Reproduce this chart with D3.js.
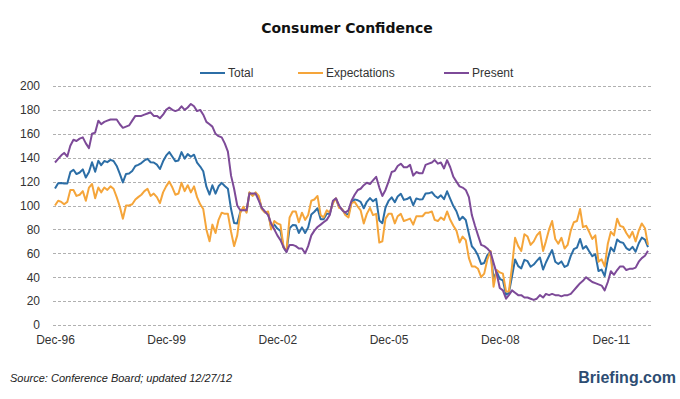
<!DOCTYPE html>
<meta charset="utf-8">
<style>

    body {
        margin: 0;
        background: #fff;
        font-family: "Liberation Sans", Arial, sans-serif;
    }

    .grid line {
        stroke: #b0b0b0;
        stroke-dasharray: 3 2;
        shape-rendering: crispEdges;
    }

    .grid path {
        stroke-width: 0;
    }

    .axis path {
        display: none;
    }

    .axis text {
        font-family: "Liberation Sans", Arial, sans-serif;
        font-size: 12px;
        fill: #333;
    }

    .line {
        fill: none;
        stroke-width: 2px;
        stroke-linejoin: round;
    }

</style>

<svg width="680" height="399"></svg>

<script src="https://cdn.jsdelivr.net/npm/d3@7"></script>
<script>

    // monthly readings, Dec-96 .. Dec-12
    var firstMonth = "Dec-96";

    var total = [
        114.2,
        118.7, 118.9, 118.5, 118.5, 127.9, 129.9, 126.3, 127.6, 130.2, 123.4, 128.1, 136.2,
        128.3, 137.4, 133.8, 137.2, 136.3, 138.2, 137.2, 133.1, 126.4, 119.3, 126.4, 126.7,
        128.9, 133.1, 134.0, 135.5, 137.7, 139.0, 136.2, 136.0, 134.2, 130.5, 137.0, 141.7,
        144.7, 140.8, 137.1, 137.7, 144.7, 139.2, 143.0, 140.8, 142.5, 135.8, 132.6, 128.6,
        115.7, 109.2, 116.9, 109.9, 116.1, 118.9, 116.3, 114.0, 97.0, 85.3, 84.9, 94.6,
        97.8, 95.0, 110.7, 108.5, 110.3, 106.3, 97.4, 94.5, 93.7, 82.0, 84.0, 80.7,
        78.8, 64.8, 61.4, 81.0, 83.6, 83.5, 77.0, 81.7, 77.0, 81.7, 92.5, 94.8,
        97.7, 88.5, 88.5, 93.0, 93.1, 102.8, 105.7, 98.7, 96.7, 92.9, 92.6, 102.7,
        105.1, 104.4, 103.0, 97.7, 103.1, 106.2, 103.6, 105.5, 87.5, 85.2, 98.3, 103.8,
        106.8, 102.7, 107.5, 109.8, 104.7, 105.4, 107.0, 100.2, 105.9, 105.1, 105.3, 110.0,
        110.2, 111.2, 108.2, 106.3, 108.5, 105.3, 111.9, 105.6, 99.5, 95.2, 87.8, 90.6,
        87.9, 76.4, 65.9, 62.8, 58.1, 51.0, 51.9, 58.5, 61.4, 38.8, 44.7, 38.6,
        37.4, 25.3, 26.9, 40.8, 54.8, 49.3, 47.4, 54.5, 53.4, 48.7, 50.6, 53.6,
        56.5, 46.4, 52.3, 57.7, 62.7, 52.9, 51.0, 53.2, 48.6, 49.9, 57.8, 63.4,
        64.8, 72.0, 63.8, 66.0, 61.7, 57.6, 59.2, 45.2, 46.4, 40.9, 55.2, 64.8,
        61.5, 71.6, 69.5, 68.7, 64.4, 62.7, 65.4, 61.3, 68.4, 73.1, 71.5, 65.1
    ];

    var expectations = [
        100,
        104, 103, 101, 103, 113, 113, 108, 109, 112, 104, 115, 118,
        106, 115, 111, 115, 113, 116, 114, 107, 99, 89, 100, 100,
        101, 105, 107, 109, 112, 114, 108, 110, 107, 102, 111, 116,
        120, 115, 109, 110, 119, 112, 117, 111, 116, 107, 101, 97,
        80, 70, 84, 77, 88, 94, 93, 93, 78, 66, 75, 94,
        99, 94, 111, 108, 111, 108, 97, 94, 95, 80, 87, 85,
        84, 65, 62, 90, 95, 95, 86, 94, 88, 92, 104, 105,
        108, 92, 90, 96, 94, 102, 106, 98, 97, 92, 90, 102,
        103, 99, 96, 85, 93, 98, 92, 93, 69, 70, 89, 93,
        93, 85, 91, 93, 87, 88, 89, 84, 91, 91, 91, 94,
        94, 95, 88, 87, 90, 88, 95, 88, 83, 79, 69, 74,
        71, 56, 49, 49, 47, 40, 43, 55, 62, 32, 46, 44,
        43, 28, 28, 49, 73, 66, 62, 76, 74, 67, 70, 75,
        78, 62, 70, 80, 87, 72, 68, 73, 64, 67, 79, 86,
        87, 97, 82, 83, 78, 72, 75, 53, 55, 49, 68, 78,
        75, 89, 83, 82, 77, 73, 78, 70, 79, 85, 81, 67
    ];

    var present = [
        136,
        139, 142, 144, 141, 150, 155, 154, 156, 157, 152, 148, 160,
        161, 171, 168, 170, 171, 172, 172, 172, 168, 165, 166, 167,
        171, 175, 175, 175, 176, 177, 178, 175, 175, 173, 176, 180,
        182, 180, 179, 180, 183, 180, 182, 185, 183, 179, 180, 176,
        170, 168, 166, 160, 158, 157, 152, 145, 125, 114, 100, 96,
        96, 96, 110, 110, 110, 104, 98, 95, 92, 85, 80, 75,
        71, 65, 61, 67, 67, 66, 64, 64, 60, 66, 75, 79,
        82, 84, 86, 88, 92, 104, 106, 100, 96, 94, 96, 104,
        109, 113, 114, 117, 119, 118, 121, 124, 115, 108, 113, 120,
        128, 129, 133, 135, 132, 132, 134, 125, 128, 127, 127, 134,
        135, 136, 138, 135, 136, 131, 138, 132, 124, 120, 116, 115,
        113, 107, 92, 83, 75, 67, 66, 64, 61, 52, 43, 31,
        29, 22, 25, 29, 27, 25, 25, 23, 23, 22, 21, 22,
        25, 23, 26, 25, 26, 25, 25, 24, 25, 25, 26, 29,
        32, 35, 37, 40, 38, 36, 35, 34, 33, 29, 36, 45,
        42, 46, 49, 49, 46, 47, 47, 48, 53, 56, 58, 62
    ];

    var seriesNames = ["Total", "Expectations", "Present"];
    var seriesColors = ["#2c6ea6", "#f5a53a", "#7d4a98"];

    var xTickLabels = ["Dec-96", "Dec-99", "Dec-02", "Dec-05", "Dec-08", "Dec-11"];
    var yTicks = [0, 20, 40, 60, 80, 100, 120, 140, 160, 180, 200];

    var svg = d3.select("svg"),
            plot = {left: 55, right: 648, top: 86, bottom: 325};

    var parseMonth = d3.timeParse("%b-%y");
    var start = parseMonth(firstMonth);
    var dates = total.map(function(d, i) { return d3.timeMonth.offset(start, i); });

    var x = d3.scaleTime()
            .domain([dates[0], dates[dates.length - 1]])
            .range([plot.left, plot.right]);

    var y = d3.scaleLinear()
            .domain([0, 200])
            .range([plot.bottom, plot.top]);

    // title
    svg.append("text")
            .attr("x", 347)
            .attr("y", 33)
            .attr("text-anchor", "middle")
            .style("font", "bold 14px 'DejaVu Sans', Verdana, sans-serif")
            .style("fill", "#111")
            .text("Consumer Confidence");

    // horizontal gridlines
    svg.append("g")
            .attr("class", "grid")
            .attr("transform", "translate(53,0)")
            .call(d3.axisLeft(y)
                    .tickValues(yTicks)
                    .tickSize(-598)
                    .tickFormat("")
            );

    // y axis labels
    svg.append("g")
            .attr("class", "axis axis--y")
            .attr("transform", "translate(53,0)")
            .call(d3.axisLeft(y).tickValues(yTicks).tickSize(0).tickPadding(13));

    // x axis labels
    svg.append("g")
            .attr("class", "axis axis--x")
            .attr("transform", "translate(0," + plot.bottom + ")")
            .call(d3.axisBottom(x)
                    .tickValues(xTickLabels.map(parseMonth))
                    .tickFormat(function(d, i) { return xTickLabels[i]; })
                    .tickSize(0)
                    .tickPadding(10)
            );

    var line = d3.line()
            .x(function(d, i) { return x(dates[i]); })
            .y(function(d) { return y(d); });

    var series = [total, expectations, present];

    svg.selectAll(".line")
            .data(series)
            .enter().append("path")
            .attr("class", "line")
            .attr("d", line)
            .style("stroke", function(d, i) { return seriesColors[i]; });

    // legend
    var legendX = [200, 298, 444];
    var legend = svg.selectAll(".legend")
            .data(seriesNames)
            .enter().append("g")
            .attr("class", "legend")
            .attr("transform", function(d, i) { return "translate(" + legendX[i] + ",73)"; });

    legend.append("line")
            .attr("x1", 0)
            .attr("x2", 25)
            .style("stroke", function(d, i) { return seriesColors[i]; })
            .style("stroke-width", 2);

    legend.append("text")
            .attr("x", 28)
            .attr("dy", "0.35em")
            .style("font-size", "12px")
            .style("fill", "#333")
            .text(function(d) { return d; });

    // footer
    svg.append("text")
            .attr("x", 10)
            .attr("y", 382)
            .style("font", "italic 11px 'Liberation Sans', Arial, sans-serif")
            .style("fill", "#222")
            .text("Source: Conference Board; updated 12/27/12");

    svg.append("text")
            .attr("x", 676)
            .attr("y", 383)
            .attr("text-anchor", "end")
            .style("font", "bold 16px 'Liberation Sans', Arial, sans-serif")
            .style("fill", "#2d4d73")
            .text("Briefing.com");

</script>
